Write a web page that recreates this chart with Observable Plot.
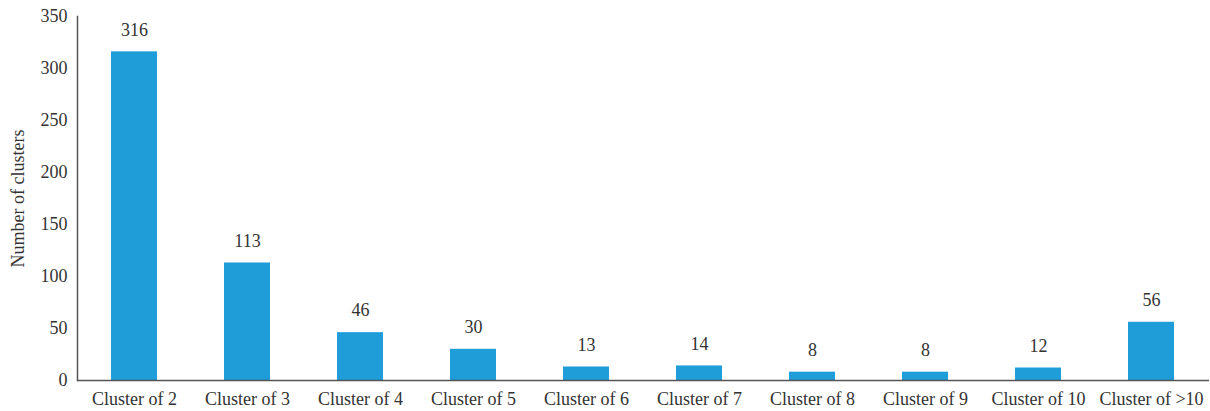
<!DOCTYPE html>
<html>
<head>
<meta charset="utf-8">
<script src="https://cdn.jsdelivr.net/npm/d3@7"></script>
<script src="https://cdn.jsdelivr.net/npm/@observablehq/plot@0.6"></script>
<style>
  html, body { margin: 0; padding: 0; background: #fff; }
  svg { display: block; }
</style>
</head>
<body>
<div id="chart"></div>
<script>
const categories = ["Cluster of 2", "Cluster of 3", "Cluster of 4", "Cluster of 5", "Cluster of 6", "Cluster of 7", "Cluster of 8", "Cluster of 9", "Cluster of 10", "Cluster of >10"];
const counts = [316, 113, 46, 30, 13, 14, 8, 8, 12, 56];
const yTicks = [0, 50, 100, 150, 200, 250, 300, 350];

const data = categories.map((c, i) => ({category: c, count: counts[i]}));

const chart = Plot.plot({
  width: 1210,
  height: 411,
  marginLeft: 77,
  marginRight: 1,
  marginTop: 16,
  marginBottom: 31,
  style: {fontFamily: "'Liberation Serif', 'DejaVu Serif', serif", fontSize: "18px", color: "#333", background: "#fff"},
  x: {domain: categories, paddingInner: 0.59, paddingOuter: 0.295, label: null},
  y: {domain: [0, 350], label: "Number of clusters"},
  marks: [
    Plot.barY(data, {x: "category", y: "count", fill: "#1f9dd8"}),
    Plot.text(data, {x: "category", y: "count", text: d => String(d.count), dy: -22, fontSize: 18, fill: "#333"}),
    Plot.axisX({tickSize: 0, tickPadding: 12, fontSize: 18, label: null}),
    Plot.axisY({ticks: yTicks, tickSize: 0, tickPadding: 10, fontSize: 18, label: "Number of clusters", labelAnchor: "center", labelArrow: "none", labelOffset: 66}),
    Plot.ruleY([0], {stroke: "#555", strokeWidth: 1.5}),
    Plot.frame({anchor: "left", stroke: "#555", strokeWidth: 1.5})
  ]
});
document.getElementById("chart").appendChild(chart);
</script>
</body>
</html>
